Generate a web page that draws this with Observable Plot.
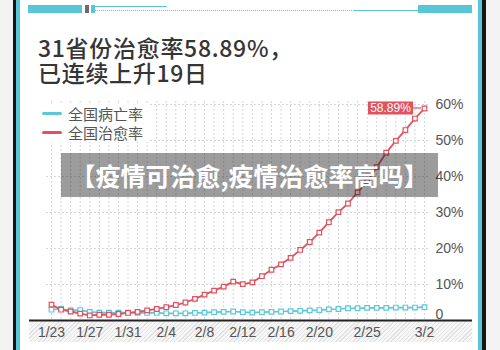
<!DOCTYPE html>
<html><head><meta charset="utf-8">
<script src="https://cdn.jsdelivr.net/npm/d3@7"></script>
<script src="https://cdn.jsdelivr.net/npm/@observablehq/plot@0.6"></script>
<style>
html,body{margin:0;padding:0;background:#f3f3f3;}
#wrap{position:relative;width:500px;height:350px;overflow:hidden;font-family:"Noto Sans CJK SC","Noto Sans",sans-serif;}
.abs{position:absolute;}
.title{left:38px;font-size:23px;line-height:24px;height:24px;color:#353535;font-weight:500;white-space:nowrap;letter-spacing:0.7px;}
#legend{left:38px;top:104px;background:#fff;padding:0 6px 0 4px;font-size:15px;color:#555;line-height:19px;}
#legend .row{display:flex;align-items:center;}
#legend .sw{width:20px;height:3px;border-radius:2px;margin-right:6px;}
#banner{left:61px;top:153px;width:377px;height:44px;background:rgba(20,20,20,0.42);color:#fff;font-weight:700;font-size:25px;line-height:44px;text-align:center;white-space:nowrap;}
#band{left:29px;top:321px;width:443px;height:21px;background:repeating-linear-gradient(135deg,#e2e2e2 0 1px,#f7f7f7 1px 3px);}
svg{position:absolute;left:0;top:0;}
</style></head>
<body>
<div id="wrap">
  <div class="abs" style="left:13px;top:0;width:473px;height:350px;background:#151515;"></div>
  <div class="abs" style="left:16px;top:0;width:466px;height:350px;background:#58c6d6;"></div>
  <div class="abs" style="left:20px;top:0;width:458px;height:350px;background:#fff;"></div>
  <div class="abs" style="left:28px;top:5px;width:54px;height:8px;background:#58c6d6;"></div>
  <div class="abs" style="left:85px;top:5px;width:4px;height:8px;background:#6b6b6b;"></div>
  <div class="abs" style="left:91px;top:5px;width:4px;height:8px;background:#58c6d6;"></div>
  <div class="abs" style="left:95px;top:6px;width:72px;height:1px;background:#58c6d6;"></div>
  <div class="abs" style="left:95px;top:10px;width:323px;height:0;border-top:1px dotted #58c6d6;"></div>
  <div class="abs" style="left:353px;top:10px;width:65px;height:1px;background:#58c6d6;"></div>
  <div class="abs" style="left:418px;top:5px;width:54px;height:8px;background:#58c6d6;"></div>
  <div class="abs" id="band"></div>
  <div class="abs title" style="top:35px;">31省份治愈率58.89%，</div>
  <div class="abs title" style="top:60px;">已连续上升19日</div>
  <div id="plotholder"></div>
  <div class="abs" id="legend"></div>
  <div class="abs" id="banner">【疫情可治愈,疫情治愈率高吗】</div>
</div>
<script>
// ---- data ----
const dates = [
  "2020-01-23","2020-01-24","2020-01-25","2020-01-26","2020-01-27","2020-01-28","2020-01-29","2020-01-30","2020-01-31",
  "2020-02-01","2020-02-02","2020-02-03","2020-02-04","2020-02-05","2020-02-06","2020-02-07","2020-02-08","2020-02-09",
  "2020-02-10","2020-02-11","2020-02-12","2020-02-13","2020-02-14","2020-02-15","2020-02-16","2020-02-17","2020-02-18",
  "2020-02-19","2020-02-20","2020-02-21","2020-02-22","2020-02-23","2020-02-24","2020-02-25","2020-02-26","2020-02-27",
  "2020-02-28","2020-02-29","2020-03-01","2020-03-02"
];
const deathRate = [3.0,3.2,2.8,2.9,2.4,2.2,2.2,2.2,2.2,2.1,2.1,2.1,2.0,2.0,2.0,2.1,2.2,2.3,2.4,2.5,2.3,2.2,2.3,2.4,2.5,2.6,2.7,2.8,2.9,3.1,3.2,3.4,3.4,3.5,3.5,3.5,3.6,3.6,3.6,3.7];
const cureRate = [4.4,3.0,2.5,1.9,1.4,1.6,1.6,1.8,2.1,2.4,2.8,3.2,3.7,4.3,5.0,6.0,7.2,8.3,9.4,10.8,10.1,10.6,12.3,14.1,15.6,17.4,19.6,21.8,24.4,27.3,30.1,32.5,35.6,38.6,42.6,46.6,49.9,52.9,56.1,58.89];
const tickDates = ["2020-01-23","2020-01-27","2020-01-31","2020-02-04","2020-02-08","2020-02-12","2020-02-16","2020-02-20","2020-02-25","2020-03-02"];
const yTicks = [10,20,30,40,50,60];
const seriesNames = ["全国病亡率","全国治愈率"];

const CYAN = "#5cc8d7", RED = "#e0525f";
const parse = d3.utcParse("%Y-%m-%d");
const rows = dates.map((d,i)=>({date:parse(d), death:deathRate[i], cure:cureRate[i]}));

const chart = Plot.plot({
  width:500, height:350,
  marginLeft:51, marginRight:76, marginTop:104, marginBottom:30,
  style:{background:"transparent", fontFamily:"'Liberation Sans', Arial, sans-serif", fontSize:"14px", color:"#555", overflow:"visible"},
  x:{type:"utc", domain:[parse(dates[0]), parse(dates[dates.length-1])]},
  y:{domain:[0,60]},
  marks:[
    Plot.ruleX(rows, {x:"date", stroke:"#d6d6d6", strokeDasharray:"2,2", insetTop:-3}),
    Plot.ruleY(yTicks, {stroke:"#d6d6d6", strokeDasharray:"2,2", insetLeft:-5, insetRight:-6}),
    Plot.ruleY([0], {stroke:"#222", strokeWidth:2, insetLeft:-22, insetRight:-48}),
    Plot.axisX({ticks:tickDates.map(parse), tickFormat:d3.utcFormat("%-m/%-d"), tickSize:0, tickPadding:7, label:null}),
    Plot.axisY({anchor:"right", ticks:yTicks, tickFormat:d=>d+"%", tickSize:0, tickPadding:11, label:null}),
    Plot.axisY({anchor:"right", ticks:[0], tickFormat:d=>String(d), tickSize:0, tickPadding:11, dy:-6, label:null}),
    Plot.line(rows, {x:"date", y:"death", stroke:CYAN, strokeWidth:1.7}),
    Plot.dot(rows, {x:"date", y:"death", symbol:"square", r:2.6, fill:"white", stroke:CYAN, strokeWidth:1.2}),
    Plot.line(rows, {x:"date", y:"cure", stroke:RED, strokeWidth:1.8}),
    Plot.dot(rows, {x:"date", y:"cure", symbol:"square", r:2.6, fill:"white", stroke:RED, strokeWidth:1.2})
  ]
});
document.getElementById("plotholder").appendChild(chart);

// end label
const last = rows[rows.length-1];
const px = chart.scale("x").apply(last.date), py = chart.scale("y").apply(last.cure);
const g = d3.select(chart).append("g");
g.append("line").attr("x1",px-11).attr("x2",px-3).attr("y1",py).attr("y2",py).attr("stroke",RED).attr("stroke-width",1.2);
g.append("rect").attr("x",px-56).attr("y",py-6.5).attr("width",45).attr("height",13).attr("fill",RED);
g.append("text").attr("x",px-33.5).attr("y",py).attr("dy","0.36em").attr("text-anchor","middle")
  .attr("fill","#fff").attr("font-size",12).attr("font-family","'Liberation Sans', Arial, sans-serif").text(d3.format(".2f")(last.cure)+"%");

// legend
const legend = d3.select("#legend");
[CYAN, RED].forEach((c,i)=>{
  const r = legend.append("div").attr("class","row");
  r.append("div").attr("class","sw").style("background",c);
  r.append("span").text(seriesNames[i]);
});
</script>
</body></html>
